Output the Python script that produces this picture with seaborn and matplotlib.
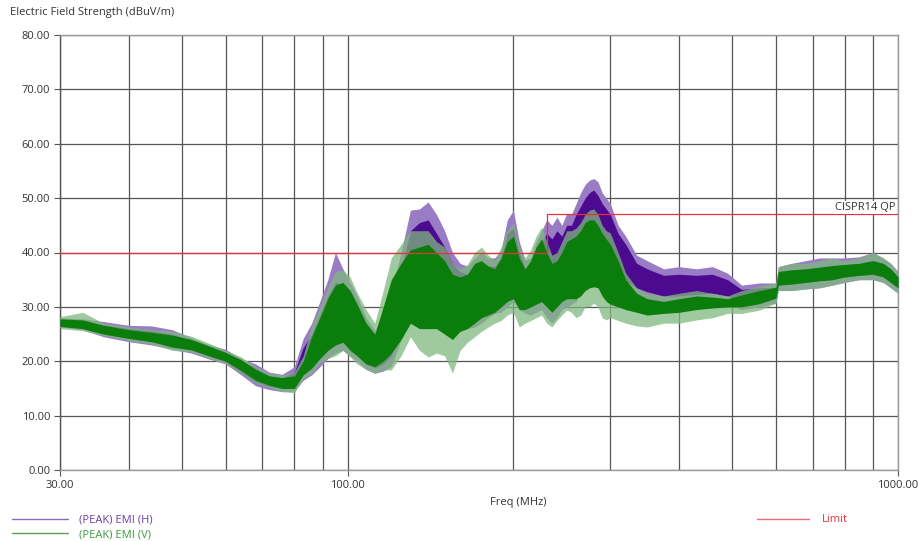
import matplotlib
matplotlib.use("Agg")
import matplotlib.pyplot as plt
import numpy as np
import pandas as pd
import seaborn as sns
from matplotlib.lines import Line2D
from matplotlib.ticker import FixedLocator, NullFormatter

# frequency points (MHz)
freq_mhz = [30, 33, 36, 40, 44, 48, 52, 56, 60, 64, 68, 72, 76, 80, 83, 86, 89, 92, 95, 98,
            101, 104, 108, 112, 116, 120, 125, 130, 135, 140, 145, 150, 155, 160, 165, 170,
            175, 180, 185, 190, 195, 200, 205, 210, 215, 220, 225, 230, 235, 240, 245, 250,
            255, 260, 265, 270, 275, 280, 285, 290, 295, 300, 310, 320, 335, 350, 375, 400,
            430, 460, 490, 520, 560, 600, 606, 640, 680, 720, 760, 800, 850, 900, 940, 970, 1000]

# (PEAK) EMI (H) - outer envelope of the noisy trace
h_min = [26.3, 25.8, 24.5, 23.6, 23.0, 22.2, 21.5, 20.4, 19.5, 17.5, 15.5, 14.8, 14.4, 14.5, 16.5,
         17.5, 19.0, 20.5, 21.5, 22.0, 21.0, 20.0, 18.5, 17.8, 18.2, 19.0, 24.0, 27.6, 26.0, 27.0,
         26.0, 25.0, 25.5, 26.0, 26.0, 26.3, 27.0, 28.0, 28.8, 29.0, 30.0, 31.0, 29.5, 28.8, 28.5,
         29.0, 29.5, 28.0, 27.0, 28.0, 29.5, 30.0, 30.5, 31.0, 33.0, 35.0, 36.0, 36.8, 36.5, 36.0,
         35.5, 35.0, 34.0, 33.7, 32.0, 31.3, 30.7, 30.7, 31.0, 31.3, 30.5, 29.5, 30.0, 30.7, 33.0,
         33.0, 33.3, 33.5, 34.0, 34.5, 35.0, 35.0, 34.5, 33.5, 32.5]
h_max = [28.0, 27.8, 27.3, 26.6, 26.5, 25.8, 24.3, 23.0, 22.2, 20.5, 19.5, 18.0, 17.6, 19.0, 24.2,
         27.0, 31.0, 35.0, 40.0, 37.0, 34.5, 32.0, 28.0, 25.7, 28.0, 33.0, 40.0, 47.8, 48.0, 49.3,
         47.0, 44.0, 40.0, 38.0, 37.5, 39.0, 40.0, 39.0, 39.0, 40.5, 46.0, 47.8, 42.0, 38.6, 39.0,
         42.0, 44.0, 46.0, 45.0, 46.5, 45.0, 47.2, 47.0, 49.0, 51.0, 52.5, 53.3, 53.6, 53.0, 51.0,
         50.0, 49.0, 45.0, 43.0, 39.5, 38.5, 37.0, 37.4, 37.0, 37.4, 36.2, 34.0, 34.4, 34.4, 37.4,
         38.0, 38.5, 39.0, 39.0, 39.0, 39.2, 40.0, 39.0, 38.0, 36.5]
# dense core of the H trace
h_core_lo = [26.6, 26.0, 25.0, 24.2, 23.6, 22.8, 22.0, 20.9, 19.9, 18.0, 16.2, 15.4, 15.0, 15.3, 17.5,
             18.5, 20.5, 22.0, 23.0, 23.5, 22.5, 21.0, 19.5, 18.8, 19.5, 21.0, 25.5, 29.0, 28.5, 29.0,
             28.0, 27.0, 27.0, 27.5, 27.5, 28.0, 28.5, 29.5, 30.0, 30.5, 31.5, 32.0, 31.0, 30.5, 30.0,
             30.5, 31.0, 30.0, 29.5, 30.0, 31.0, 32.0, 32.5, 33.0, 35.0, 37.0, 38.0, 38.5, 38.0, 37.5,
             37.0, 36.5, 35.5, 34.8, 33.5, 32.8, 32.0, 32.0, 32.3, 32.5, 32.0, 31.0, 31.3, 31.6, 34.0,
             34.2, 34.5, 34.8, 35.0, 35.5, 35.8, 36.0, 35.5, 34.5, 33.5]
h_core_hi = [27.6, 27.3, 26.7, 26.0, 25.6, 25.0, 23.8, 22.6, 21.7, 20.0, 18.8, 17.4, 17.0, 18.0, 22.5,
             25.0, 28.5, 32.0, 34.5, 34.0, 32.0, 29.5, 26.0, 24.0, 26.0, 30.0, 37.0, 44.0, 45.5, 46.0,
             43.5, 41.0, 38.0, 36.5, 36.0, 37.0, 38.0, 37.5, 37.5, 39.0, 43.5, 44.5, 40.0, 37.0, 37.5,
             40.0, 42.0, 43.5, 42.5, 44.0, 43.0, 45.0, 45.0, 47.0, 48.5, 50.0, 51.0, 51.5, 50.5, 49.0,
             48.0, 47.0, 43.5, 41.5, 38.0, 37.0, 35.8, 36.0, 35.8, 36.0, 35.0, 33.2, 33.5, 33.6, 36.5,
             36.8, 37.0, 37.3, 37.6, 37.8, 38.0, 38.5, 38.0, 37.0, 35.5]

# (PEAK) EMI (V) - outer envelope
v_min = [26.0, 25.6, 24.7, 23.8, 23.2, 22.0, 21.7, 20.5, 19.6, 17.8, 16.0, 15.2, 14.4, 14.2, 16.8,
         17.8, 19.7, 20.5, 21.0, 22.0, 20.8, 19.5, 18.5, 17.8, 18.4, 18.4, 21.0, 24.5, 22.0, 20.8,
         21.5, 21.0, 17.8, 22.0, 23.5, 24.5, 25.5, 26.3, 27.0, 27.5, 28.5, 29.0, 26.3, 27.0, 27.5,
         28.0, 28.5, 27.0, 26.3, 27.5, 28.5, 29.4, 29.0, 28.0, 28.5, 30.0, 30.0, 30.7, 30.0, 28.0,
         27.6, 28.0, 27.5, 27.0, 26.5, 26.3, 27.0, 27.0, 27.6, 28.0, 28.8, 28.8, 29.4, 30.7, 33.0,
         33.0, 33.3, 33.5, 34.0, 34.5, 35.0, 35.0, 34.5, 33.5, 32.5]
v_max = [28.2, 29.0, 27.0, 26.3, 25.8, 25.5, 24.6, 23.3, 22.0, 20.8, 19.0, 17.8, 17.5, 18.0, 21.0,
         26.5, 30.0, 33.5, 36.5, 36.8, 35.5, 32.6, 29.5, 27.0, 33.0, 39.0, 41.5, 44.0, 44.0, 44.0,
         42.0, 41.0, 38.0, 37.0, 37.8, 40.0, 41.0, 39.5, 38.5, 41.0, 44.0, 45.4, 41.0, 39.0, 40.5,
         43.0, 44.7, 42.0, 39.5, 40.0, 42.0, 44.0, 44.0, 44.5, 45.5, 47.0, 47.8, 48.0, 47.0, 45.0,
         44.0, 43.6, 40.0, 36.2, 33.5, 32.5, 32.0, 32.5, 33.0, 32.5, 32.0, 33.0, 33.8, 34.4, 37.4,
         38.0, 38.0, 38.5, 39.0, 38.5, 39.0, 40.0, 39.0, 38.0, 36.5]
v_core_lo = [26.4, 26.0, 25.0, 24.2, 23.6, 22.6, 22.1, 21.0, 20.0, 18.3, 16.5, 15.6, 15.0, 15.0, 17.5,
             18.8, 20.5, 22.0, 23.0, 23.5, 22.0, 21.0, 19.5, 19.0, 20.0, 21.5, 24.0, 27.0, 26.0, 26.0,
             26.0, 25.0, 24.0, 25.5, 26.0, 27.0, 28.0, 28.5, 29.0, 30.0, 31.0, 31.5, 29.5, 29.5, 30.0,
             30.5, 31.0, 30.0, 29.0, 30.0, 31.0, 31.5, 31.5, 31.5, 32.0, 33.0, 33.5, 33.7, 33.5, 32.0,
             31.0, 30.5, 30.0, 29.5, 29.0, 28.5, 28.8, 29.0, 29.5, 29.8, 30.0, 30.0, 30.6, 31.6, 34.0,
             34.2, 34.5, 34.8, 35.0, 35.5, 35.8, 36.0, 35.5, 34.5, 33.5]
v_core_hi = [27.8, 27.6, 26.6, 25.8, 25.3, 24.8, 24.0, 22.8, 21.6, 20.3, 18.5, 17.3, 17.0, 17.3, 20.0,
             24.5, 28.0, 31.5, 34.0, 34.5, 33.0, 30.5, 27.0, 25.0, 30.0, 35.0, 38.0, 40.5, 41.0, 41.5,
             40.0, 38.5, 36.0, 35.5, 36.0, 38.0, 38.5, 37.5, 37.0, 39.0, 42.0, 43.0, 39.0, 37.0, 38.5,
             41.0, 42.5, 40.0, 38.0, 38.5, 40.0, 42.0, 42.5, 43.0, 44.0, 45.5, 46.0, 46.0, 45.0, 43.5,
             42.5, 41.5, 38.5, 35.0, 32.5, 31.5, 31.0, 31.5, 32.0, 31.8, 31.5, 32.2, 33.0, 33.6, 36.5,
             36.8, 37.0, 37.3, 37.6, 37.8, 38.0, 38.5, 38.0, 37.0, 35.5]

# CISPR14 QP limit
limit_freq = [30, 230, 1000]
limit_level = [40, 47, 47]

x_ticks = [30, 100, 1000]
x_minor = [40, 50, 60, 70, 80, 90, 200, 300, 400, 500, 600, 700, 800, 900]
y_ticks = [0, 10, 20, 30, 40, 50, 60, 70, 80]

PURPLE = "#4b0a8f"
GREEN = "#0b7d0b"
RED = "#e8313f"
TEXT = "#333333"

sns.set_theme(style="white")
plt.rcParams["font.family"] = ["Open Sans", "DejaVu Sans"]

df = pd.DataFrame({"freq": freq_mhz, "h_min": h_min, "h_max": h_max,
                   "h_lo": h_core_lo, "h_hi": h_core_hi,
                   "v_min": v_min, "v_max": v_max,
                   "v_lo": v_core_lo, "v_hi": v_core_hi})
lim = pd.DataFrame({"freq": limit_freq, "level": limit_level})

fig = plt.figure(figsize=(9.18, 5.41), dpi=100)
ax = fig.add_axes([60 / 918, 71 / 541, 838 / 918, 435 / 541])
ax.set_xscale("log")

# H first, V drawn on top
ax.fill_between(df["freq"], df["h_min"], df["h_max"], color="#9a7cc4", lw=0, zorder=3)
ax.fill_between(df["freq"], df["h_lo"], df["h_hi"], color=PURPLE, lw=0, zorder=4)
ax.fill_between(df["freq"], df["v_min"], df["v_max"], color="#7fb87f", lw=0, alpha=0.75, zorder=5)
ax.fill_between(df["freq"], df["v_lo"], df["v_hi"], color=GREEN, lw=0, zorder=6)

sns.lineplot(data=lim, x="freq", y="level", drawstyle="steps-post", color=RED,
             lw=0.9, ax=ax, zorder=7)
ax.text(990, 48.3, "CISPR14 QP", ha="right", va="center", fontsize=8, color=TEXT,
        bbox=dict(facecolor="white", edgecolor="none", pad=0.5), zorder=8)

ax.set_xlim(30, 1000)
ax.set_ylim(0, 80)
ax.xaxis.set_major_locator(FixedLocator(x_ticks))
ax.xaxis.set_minor_locator(FixedLocator(x_minor))
ax.xaxis.set_minor_formatter(NullFormatter())
ax.set_xticklabels([f"{t:.2f}" for t in x_ticks])
ax.set_yticks(y_ticks)
ax.set_yticklabels([f"{t:.2f}" for t in y_ticks])
ax.tick_params(axis="both", which="major", labelsize=8, labelcolor=TEXT, length=4,
               width=0.8, color="#555555", left=True, bottom=True, pad=3)
ax.tick_params(axis="x", which="minor", length=0)
ax.grid(True, which="both", color="#555555", lw=0.9, zorder=1)
ax.set_axisbelow(True)
for side in ["top", "right", "bottom"]:
    ax.spines[side].set_color("#9a9a9a")
ax.spines["left"].set_color("#555555")
for s in ax.spines.values():
    s.set_linewidth(1.0)
ax.set_xlabel("")
ax.set_ylabel("")

fig.text(10 / 918, 1 - 13 / 541, "Electric Field Strength (dBuV/m)", fontsize=8,
         color=TEXT, va="center", ha="left")
fig.text(518 / 918, 1 - 503 / 541, "Freq (MHz)", fontsize=8, color=TEXT,
         va="center", ha="center")

h_handles = [Line2D([], [], color="#8a6bb8", lw=1), Line2D([], [], color="#5aa05a", lw=1)]
leg1 = fig.legend(h_handles, ["(PEAK) EMI (H)", "(PEAK) EMI (V)"], loc="upper left",
                  bbox_to_anchor=(8 / 918, 1 - 510 / 541), frameon=False, fontsize=8,
                  handlelength=5.0, handletextpad=1.0, labelspacing=0.35, borderaxespad=0)
for t, c in zip(leg1.get_texts(), ["#6a3fa0", "#3f9a3f"]):
    t.set_color(c)
leg2 = fig.legend([Line2D([], [], color="#ee6a72", lw=1)], ["Limit"], loc="upper left",
                  bbox_to_anchor=(753 / 918, 1 - 510 / 541), frameon=False, fontsize=8,
                  handlelength=4.6, handletextpad=1.2, borderaxespad=0)
leg2.get_texts()[0].set_color(RED)

fig.savefig("out.png", dpi=100)
